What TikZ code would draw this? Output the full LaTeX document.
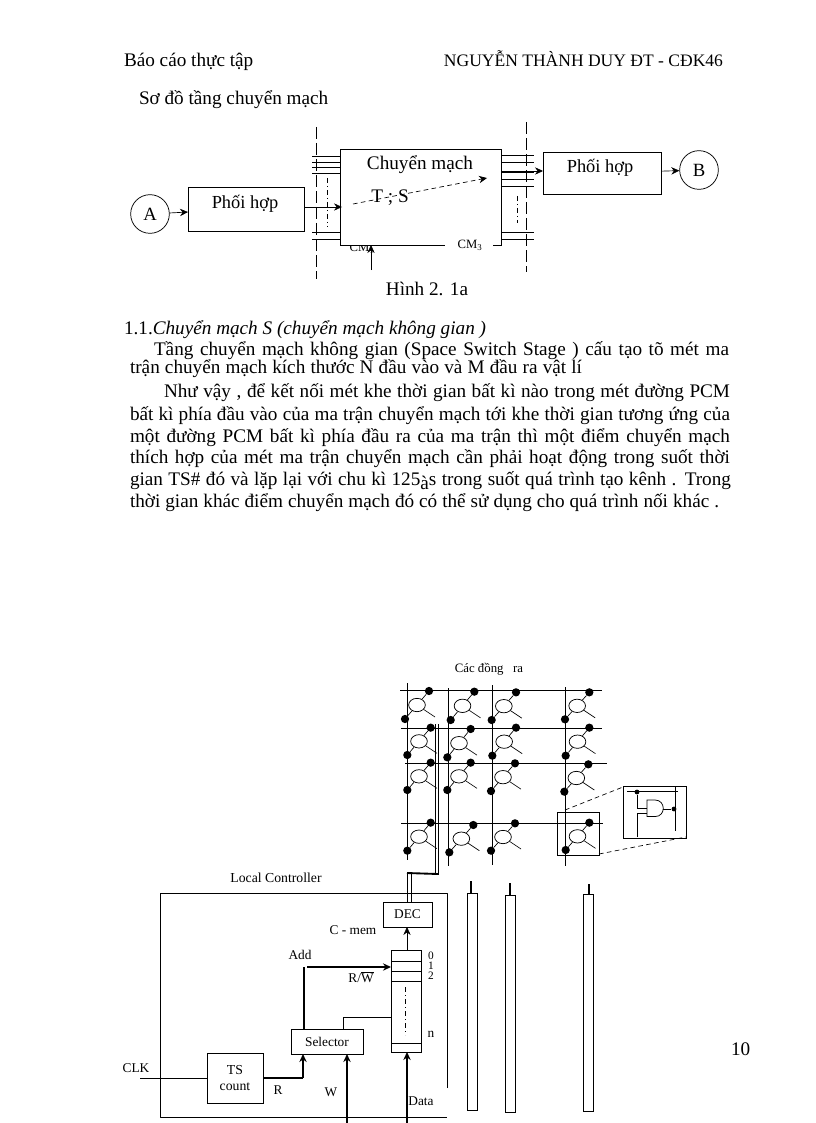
\documentclass[tikz,border=0pt]{standalone}
\usepackage{fontspec}
\setmainfont{Liberation Serif}
\usetikzlibrary{arrows.meta,shapes.geometric,calc}
\newdimen\pxu \pxu=.75pt
\newcommand{\bodyf}{\fontsize{14.4}{16}\selectfont}
\newcommand{\smallf}{\fontsize{10}{11}\selectfont}
\newcommand{\midf}{\fontsize{14}{16}\selectfont}
\tikzset{
  x=.75pt,y=-.75pt,
  >={Stealth[length=6pt,width=5.5pt]},
  conn/.style={line width=.5pt},
  thickconn/.style={line width=1.5pt},
  pbox/.style={draw,line width=.55pt,inner sep=0pt,outer sep=0pt,anchor=north west},
  circ/.style={draw,circle,line width=.55pt,inner sep=0pt,minimum size=29pt},
  lab/.style={inner sep=0pt,outer sep=0pt,font=\smallf},
  digit/.style={inner sep=0pt,outer sep=0pt,font=\fontsize{8.5}{9}\selectfont},
  txt/.style={inner sep=0pt,outer sep=0pt,anchor=base west,font=\bodyf},
  dotn/.style={fill,circle,inner sep=0pt,minimum size=6.2pt},
  sdot/.style={fill,circle,inner sep=0pt,minimum size=3.6pt},
  cellring/.style={draw,ellipse,line width=.55pt,inner sep=0pt,minimum width=12.5pt,minimum height=10pt},
  vdash/.style={line width=.55pt,dash pattern=on 9pt off 3pt},
  ddash/.style={line width=.5pt,dash pattern=on 3.5pt off 2.5pt},
  ddot/.style={line width=.45pt,dash pattern=on 4pt off 2pt on 1pt off 2pt},
}
\newcommand{\pxbox}[6]{\node[pbox,minimum width=\dimexpr#4\pxu-#2\pxu\relax,minimum height=\dimexpr#5\pxu-#3\pxu\relax] (#1) at (#2,#3) {#6};}
\newcommand{\jline}[5]{\node[txt] (#1) at (#2,#4) {\makebox[\dimexpr#3\pxu-#2\pxu\relax][s]{#5}};}
\newcommand{\cellsw}[5]{%
  \node[dotn] (#1t) at ({390+#2/3},{655+#3/3}) {};
  \node[dotn] (#1b) at ({390+#4/3},{655+#5/3}) {};
  \node[cellring] (#1e) at ($(#1t)!.5!(#1b)$) {};
  \coordinate (#1x) at ($(#1e)+(18,12)$);
  \draw[conn] (#1t) -- (#1e);
  \draw[conn] (#1b) -- (#1e);
  \draw[conn] (#1e) -- (#1x);
}
\begin{document}
\begin{tikzpicture}
\useasboundingbox (0,0) rectangle (816,1123);
\fill[white] (0,0) rectangle (816,1123);

% page text
\node[txt] (hl) at (124,67) {Báo cáo thực tập};
\node[txt,anchor=base east,font=\fontsize{13.15}{15}\selectfont] (hr) at (723,67) {NGUYỄN THÀNH DUY ĐT - CĐK46};
\node[txt] (ttl) at (139,105) {Sơ đồ tầng chuyển mạch};
\node[txt,font=\bodyf] (pg) at (731,1055) {10};

% top diagram
\node[circ] (A) at (150,214) {\midf A};
\node[circ] (B) at (699,170) {\midf B};
\pxbox{p1}{188}{187}{304}{231}{}
\pxbox{p2}{543}{152}{661}{194}{}
\pxbox{sw}{340}{149}{501}{245}{}
\node[font=\fontsize{13.8}{15}\selectfont,inner sep=0] (p1t) at (245,204) {Phối hợp};
\node[font=\fontsize{13.8}{15}\selectfont,inner sep=0] (p2t) at (600,168) {Phối hợp};
\node[font=\bodyf,inner sep=0] (swt) at (420,165) {Chuyển mạch};
% white mask for broken bottom edge and labels
\fill[white] (445,243) rectangle (493,247);
\draw[conn] (493,245) -- (501,245);
\node[lab,font=\fontsize{9.5}{10}\selectfont] (cm3) at (470,245) {CM\textsubscript{3}};
\draw[conn,->] (A) -- (p1);
\coordinate (p1r) at (304,207);
\coordinate (swl) at (342,207);
\draw[conn,->] (p1r) -- (swl);
\coordinate (swr) at (501,171);
\coordinate (p2l) at (543,171);
\draw[conn,->] (swr) -- (p2l);
\draw[conn,->] (p2) -- (B);
\coordinate (dv1a) at (316,127); \coordinate (dv1b) at (316,279);
\coordinate (dv2a) at (526,122); \coordinate (dv2b) at (526,272);
\draw[vdash] (dv1a) -- (dv1b);
\draw[vdash] (dv2a) -- (dv2b);
\foreach \y in {156,162,167,173,232,239}{\draw[conn] (312,\y) -- (340,\y);}
\foreach \y in {155,162,172,179,186,232,239}{\draw[conn] (501,\y) -- (534,\y);}
\draw[ddot] (327,178) -- (327,227);
\draw[ddot] (517,196) -- (517,223);
\node[font=\bodyf,inner sep=0,fill=none] (ts) at (390,198) {T ; S};
\coordinate (dsa) at (353,204); \coordinate (dsb) at (487,178);
\draw[ddash,-{Stealth[length=6pt,width=5.5pt]}] (dsa) -- (dsb);
\node[lab,font=\fontsize{9.5}{10}\selectfont] (cmt) at (362,248) {CM\textsubscript{1}};
\fill[white] (350,246) rectangle (375,239.8);
\draw[line width=.55pt] (340,245) -- (445,245);
\coordinate (ctl) at (371,270);
\coordinate (ctlt) at (371,245);
\draw[conn,->] (ctl) -- (ctlt);
\node[txt,anchor=center,font=\bodyf] (cap) at (427,289) {Hình 2. 1a};

% paragraph
\node[txt] (h11) at (124,334) {1.1.\textit{Chuyển mạch S (chuyển mạch không gian )}};
\jline{l1}{154}{729}{355.5}{Tầng chuyển mạch không gian  (Space Switch Stage ) cấu tạo tõ mét ma}
\jline{l2}{130}{582}{373.5}{trận chuyển mạch kích thước N đầu vào và M đầu ra vật lí}
\jline{l3}{164}{730}{397.5}{Như vậy , để kết nối mét khe thời gian bất kì nào trong mét đường PCM}
\jline{l4}{130}{730}{420.5}{bất kì phía đầu vào của ma trận chuyển mạch tới khe thời gian tương ứng của}
\jline{l5}{130}{730}{442.5}{một đường PCM bất kì phía đầu ra của ma trận thì một điểm chuyển mạch}
\jline{l6}{130}{730}{463.5}{thích hợp của mét ma trận chuyển mạch cần phải hoạt động trong suốt thời}
\jline{l7}{130}{731}{485.5}{gian TS\# đó và lặp lại với chu kì 125\raisebox{-3pt}{à}s trong suốt quá trình tạo kênh . Trong}
\jline{l8}{130}{719}{507.5}{thời gian khác điểm chuyển mạch đó có thể sử dụng cho quá trình nối khác .}

% matrix
\node[lab,font=\fontsize{9.6}{11}\selectfont] (cd) at (489,669) {Các đồng \ \ ra};
\foreach \n/\a/\b/\c in {h1/400/602/690,h2/401/602/728,h3/405/607/763,h4/401/603/823}{
  \coordinate (\n a) at (\a,\c); \coordinate (\n b) at (\b,\c);
  \draw[line width=.6pt] (\n a) -- (\n b);
}
\foreach \n/\x/\a/\b in {v1/407/683/860,v2/448/688/866,v3/492/685/865,v4/565/687/866}{
  \coordinate (\n a) at (\x,\a); \coordinate (\n b) at (\x,\b);
  \draw[line width=.6pt] (\n a) -- (\n b);
}
\cellsw{c11}{117}{108}{45}{192}
\cellsw{c12}{253}{110}{182}{195}
\cellsw{c13}{378}{112}{305}{195}
\cellsw{c14}{598}{112}{525}{193}
\cellsw{c21}{122}{218}{52}{300}
\cellsw{c22}{242}{222}{172}{307}
\cellsw{c23}{378}{218}{307}{302}
\cellsw{c24}{598}{218}{527}{302}
\cellsw{c31}{122}{323}{52}{405}
\cellsw{c32}{242}{323}{172}{405}
\cellsw{c33}{375}{325}{303}{408}
\cellsw{c34}{595}{328}{523}{410}
\cellsw{c41}{122}{503}{52}{587}
\cellsw{c42}{250}{510}{178}{592}
\cellsw{c43}{375}{505}{303}{587}
\cellsw{c44}{598}{503}{527}{585}

% inset
\pxbox{sel}{557}{812}{599}{855}{}
\pxbox{ins}{623}{786}{686}{838}{}
\coordinate (sa) at (565,810); \coordinate (sb) at (599,854);
\coordinate (ia) at (623,787); \coordinate (ib) at (686,837);
\draw[ddash] (sa) -- (ia);
\draw[ddash] (sb) -- (ib);
\coordinate (i1) at (627,791); \coordinate (i2) at (678,791);
\draw[conn] (i1) -- (i2);
\node[sdot] (idot) at (637,792) {};
\coordinate (andi1) at (647,808); \coordinate (andi2) at (647,813.5);
\coordinate (andb) at (637,837);
\draw[conn] (idot) |- (andi1);
\draw[conn] (andb) |- (andi2);
\draw[line width=.55pt] (647,800) -- (655,800) .. controls (666,800) and (666,816.6) .. (655,816.6) -- (647,816.6) -- cycle;
\coordinate (ando) at (663.2,809);
\node[sdot] (odot) at (674,809) {};
\coordinate (o1) at (675,787); \coordinate (o2) at (675,831);
\draw[conn] (ando) -- (odot);
\draw[conn] (o1) -- (o2);

% controller bus
\coordinate (ba) at (435,724); \coordinate (bb) at (435,873);
\coordinate (bc) at (438,724); \coordinate (bd) at (438,875);
\draw[line width=.7pt] (ba) -- (bb);
\draw[line width=.7pt] (bc) -- (bd);
\coordinate (be) at (407,873);
\draw[line width=1.4pt] (bd) ++(0,-1) -- (be);
\coordinate (bf) at (407,874); \coordinate (bg) at (407,902);
\coordinate (bh) at (411,874); \coordinate (bi) at (411,902);
\draw[line width=.55pt] (bf) -- (bg);
\draw[line width=.55pt] (bh) -- (bi);

% local controller
\node[lab,font=\fontsize{10.3}{11}\selectfont] (lc) at (276,878) {Local Controller};
\coordinate (lca) at (447,1088);
\coordinate (lcb) at (447,893);
\coordinate (lcc) at (160,893);
\coordinate (lcd) at (160,1117);
\coordinate (lce) at (447,1117);
\draw[line width=.55pt,line join=round] (lca) -- (lcb) -- (lcc) -- (lcd) -- (lce);
\pxbox{dec}{383}{902}{432}{927}{\smallf DEC}
\node[lab] (cmem) at (353,930) {C - mem};
\pxbox{mem}{391}{950}{421}{1052}{}
\foreach \y in {961,971,981,1043}{\draw[conn] (391,\y) -- (421,\y);}
\node[digit] (n0) at (431,956) {0};
\node[digit] (n1) at (431,966) {1};
\node[digit] (n2) at (431,976) {2};
\node[lab] (nn) at (431,1034) {n};
\draw[ddot] (405,987) -- (405,1035);
\coordinate (memt) at (407,950); \coordinate (dect) at (407,927);
\draw[conn,->] (memt) -- (dect);
\pxbox{seln}{291}{1029}{363}{1054}{\smallf Selector}
\node[lab] (add) at (300,955) {Add};
\coordinate (sels) at (304,1029); \coordinate (selc) at (304,967); \coordinate (mema) at (391,967);
\draw[line width=1.4pt] (sels) -- (selc);
\draw[line width=1.4pt,->] (selc) ++(3,0) -- (mema);
\node[lab] (rw) at (361,977) {R/$\overline{\mbox{W}}$};
\coordinate (s2) at (343,1029); \coordinate (s3) at (343,1017); \coordinate (memb) at (391,1017);
\draw[conn] (s2) -- (s3) -- (memb);
\pxbox{tsc}{207}{1053}{263}{1103}{\parbox{36pt}{\centering\fontsize{10.3}{12}\selectfont TS\\count}}
\node[lab] (clk) at (136,1068) {CLK};
\coordinate (clkw) at (140,1078); \coordinate (tsw) at (207,1078);
\draw[conn] (clkw) -- (tsw);
\coordinate (tse) at (264,1078); \coordinate (rc) at (303,1078); \coordinate (selb) at (303,1054);
\draw[line width=1.7pt] (tse) -- (rc);
\draw[line width=1.1pt,->] (rc) -- (selb);
\node[lab] (rl) at (278,1090) {R};
\node[lab] (wl) at (331,1092) {W};
\node[lab] (dl) at (421,1101) {Data};
\coordinate (wb) at (347,1123); \coordinate (wt) at (347,1054);
\coordinate (db) at (407,1123); \coordinate (dt) at (407,1052);
\draw[line width=1.1pt,->] (wb) -- (wt);
\draw[line width=1.1pt,->] (db) -- (dt);

% column bars
\pxbox{b1}{467}{893}{477}{1110}{}
\pxbox{b2}{505}{895}{515}{1112}{}
\pxbox{b3}{583}{894}{593}{1111}{}
\coordinate (s1) at (471,881); \coordinate (s1e) at (471,893);
\coordinate (s2b) at (510,883); \coordinate (s2e) at (510,895);
\coordinate (s3b) at (589,884); \coordinate (s3e) at (589,894);
\draw[line width=1.8pt] (s1) -- (s1e);
\draw[line width=1.8pt] (s2b) -- (s2e);
\draw[line width=1.8pt] (s3b) -- (s3e);
\end{tikzpicture}
\end{document}
